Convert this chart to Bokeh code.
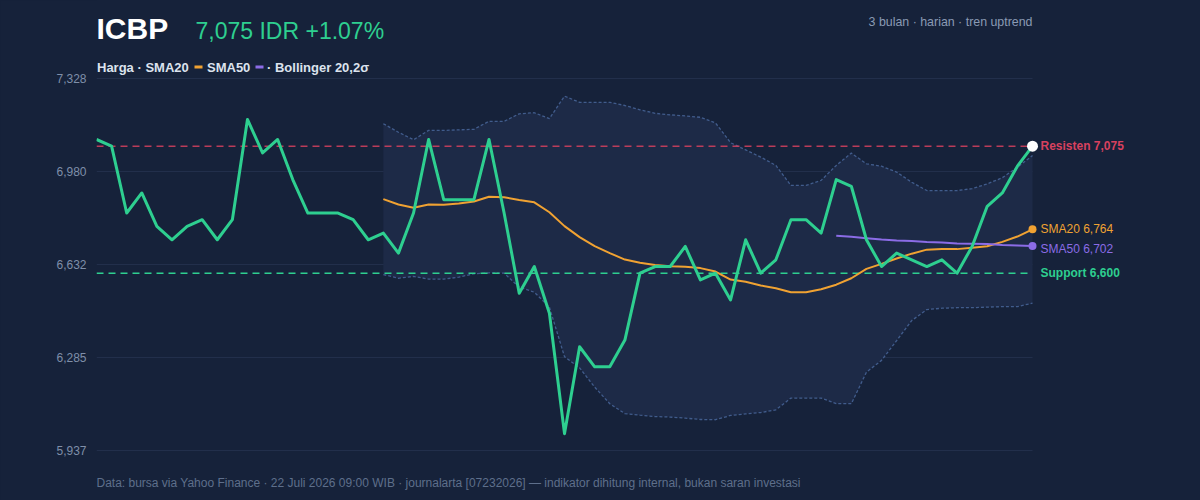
from bokeh.plotting import figure
from bokeh.models import Range1d, FixedTicker
from bokeh.embed import file_html
from bokeh.resources import INLINE
from bokeh.core.properties import value

# ---------------- data ----------------
ticker_name = "ICBP"
currency = "IDR"
change_pct = 1.07

close = [7100, 7075, 6825, 6900, 6775, 6725, 6775, 6800, 6725, 6800,
         7175, 7050, 7100, 6950, 6825, 6825, 6825, 6800, 6725, 6750,
         6675, 6825, 7100, 6875, 6875, 6875, 7100, 6825, 6525, 6625,
         6450, 6000, 6325, 6250, 6250, 6350, 6600, 6625, 6625, 6700,
         6575, 6600, 6500, 6725, 6600, 6650, 6800, 6800, 6750, 6950,
         6925, 6725, 6625, 6675, 6650, 6625, 6650, 6600, 6700, 6850,
         6900, 7000, 7075]

sma20_start = 19
sma20 = [6877, 6857, 6845, 6857, 6856, 6861, 6868, 6886, 6884, 6874,
         6865, 6828, 6776, 6735, 6701, 6675, 6651, 6639, 6631, 6626,
         6624, 6619, 6606, 6576, 6568, 6554, 6544, 6529, 6529, 6540,
         6557, 6581, 6616, 6635, 6655, 6673, 6688, 6690, 6690, 6695,
         6701, 6717, 6737, 6764]

bb_upper = [7159, 7127, 7099, 7134, 7134, 7136, 7138, 7168, 7168, 7196,
            7200, 7178, 7262, 7239, 7239, 7239, 7227, 7211, 7198, 7192,
            7188, 7183, 7162, 7088, 7061, 7034, 7003, 6928, 6928, 6947,
            7003, 7049, 7009, 7000, 6978, 6940, 6909, 6909, 6909, 6916,
            6934, 6957, 6996, 7040]

bb_lower = [6595, 6581, 6588, 6578, 6578, 6585, 6598, 6601, 6600, 6548,
            6529, 6473, 6288, 6246, 6174, 6112, 6075, 6069, 6064, 6062,
            6058, 6053, 6052, 6068, 6074, 6079, 6089, 6133, 6133, 6133,
            6112, 6112, 6230, 6274, 6348, 6423, 6464, 6469, 6471, 6471,
            6473, 6475, 6475, 6488]

sma50_start = 49
sma50 = [6740, 6736, 6731, 6726, 6722, 6720, 6717, 6715, 6711, 6710,
         6709, 6705, 6704, 6702]

resistance = 7075
support = 6600

y_ticks = [5937, 6284.75, 6632.5, 6980.25, 7328]
y_tick_labels = ["5,937", "6,285", "6,632", "6,980", "7,328"]

# ---------------- style / layout ----------------
BG = "#16223a"
BAND = "#1d2a47"
GRID = "#222f4b"
GREEN = "#2ecf90"
ORANGE = "#f0a232"
PURPLE = "#8b6ce6"
RED = "#d8415f"
BANDLINE = "#415c8c"
FONT = "Liberation Sans"

W, H = 1200, 500
PLOT_L, PLOT_R, PLOT_T, PLOT_B = 96, 1032, 78, 450  # data area in pixels
MIN_LABEL_GAP = 20  # px between stacked right-side labels

days = list(range(len(close)))
band_x = [sma20_start + i for i in range(len(sma20))]
sma50_x = [sma50_start + i for i in range(len(sma50))]

ux = (days[-1] - days[0]) / (PLOT_R - PLOT_L)
uy = (y_ticks[-1] - y_ticks[0]) / (PLOT_B - PLOT_T)
x0 = days[0]
x1 = days[-1] + (W - PLOT_R) * ux
y0 = y_ticks[0] - (H - PLOT_B) * uy
y1 = y_ticks[-1] + PLOT_T * uy


def X(px):
    return days[0] + (px - PLOT_L) * ux


def Y(py):
    return y_ticks[0] + (PLOT_B - py) * uy


p = figure(width=W, height=H, output_backend="svg", toolbar_location=None,
           x_range=Range1d(x0, x1), y_range=Range1d(y0, y1),
           min_border_left=PLOT_L, min_border_right=0, min_border_top=0, min_border_bottom=0,
           background_fill_color=None, border_fill_color=BG)
p.outline_line_color = None
p.styles = {"background-color": BG}

p.xaxis.visible = False
p.xgrid.visible = False
p.ygrid.visible = False
yax = p.yaxis[0]
yax.ticker = FixedTicker(ticks=y_ticks)
yax.major_label_overrides = {t: l for t, l in zip(y_ticks, y_tick_labels)}
yax.axis_line_color = None
yax.major_tick_line_color = None
yax.minor_tick_line_color = None
yax.major_tick_out = 0
yax.major_tick_in = 0
yax.major_label_standoff = 10
yax.major_label_text_color = "#7f8fa9"
yax.major_label_text_font = FONT
yax.major_label_text_font_size = "12px"

# gridlines across the data span
p.segment(x0=[days[0]] * len(y_ticks), x1=[days[-1]] * len(y_ticks), y0=y_ticks, y1=y_ticks,
          line_color=GRID, line_width=1)

# Bollinger band
p.varea(x=band_x, y1=bb_lower, y2=bb_upper, fill_color=BAND, fill_alpha=1.0)
p.line(band_x, bb_upper, line_color=BANDLINE, line_width=1.3, line_dash="3 2")
p.line(band_x, bb_lower, line_color=BANDLINE, line_width=1.3, line_dash="3 2")

# support / resistance
p.segment(x0=[days[0]], x1=[days[-1]], y0=[resistance], y1=[resistance],
          line_color=RED, line_width=1.5, line_dash="7 5", line_alpha=0.85)
p.segment(x0=[days[0]], x1=[days[-1]], y0=[support], y1=[support],
          line_color=GREEN, line_width=1.5, line_dash="7 5")

# moving averages
p.line(band_x, sma20, line_color=ORANGE, line_width=2)
p.line(sma50_x, sma50, line_color=PURPLE, line_width=2)

# price
p.line(days, close, line_color=GREEN, line_width=3, line_join="round")

# end markers
p.scatter([days[-1]], [close[-1]], size=11, fill_color="white", line_color=None)
p.scatter([band_x[-1]], [sma20[-1]], size=8, fill_color=ORANGE, line_color=None)
p.scatter([sma50_x[-1]], [sma50[-1]], size=8, fill_color=PURPLE, line_color=None)


# right-side labels
def rlabel(yv, text, color, bold, dy=0.0):
    p.text(x=[days[-1]], y=[yv], text=[text], x_offset=8, y_offset=dy, text_color=color,
           text_font=value(FONT), text_font_size="12px",
           text_font_style="bold" if bold else "normal",
           text_baseline="middle", text_align="left")


gap_px = (sma20[-1] - sma50[-1]) / uy
rlabel(resistance, f"Resisten {resistance:,}", RED, True)
rlabel(sma20[-1], f"SMA20 {sma20[-1]:,}", ORANGE, False)
rlabel(sma50[-1], f"SMA50 {sma50[-1]:,}", PURPLE, False, dy=max(0.0, MIN_LABEL_GAP - gap_px))
rlabel(support, f"Support {support:,}", GREEN, True)


# header / footer texts
def tlabel(px, py, text, color, size, bold=False, align="left", baseline="middle"):
    p.text(x=[X(px)], y=[Y(py)], text=[text], text_color=color, text_font=value(FONT),
           text_font_size=size, text_font_style="bold" if bold else "normal",
           text_align=align, text_baseline=baseline)


tlabel(96, 27.5, ticker_name, "#ffffff", "30px", bold=True)
tlabel(195, 30, f"{close[-1]:,} {currency} +{change_pct:.2f}%", GREEN, "23px")
tlabel(1032, 21, "3 bulan · harian · tren uptrend", "#8a9ab4", "12.4px", align="right")

LEG = "#dce3ee"
tlabel(96.5, 67, "Harga · SMA20", LEG, "13px", bold=True)
p.rect(x=[X(198)], y=[Y(66.5)], width=8, height=3, width_units="screen", height_units="screen",
       fill_color=ORANGE, line_color=None)
tlabel(206.5, 67, "SMA50", LEG, "13px", bold=True)
p.rect(x=[X(259)], y=[Y(66.5)], width=8, height=3, width_units="screen", height_units="screen",
       fill_color=PURPLE, line_color=None)
tlabel(266.5, 67, "· Bollinger 20,2σ", LEG, "13px", bold=True)

tlabel(96, 482, "Data: bursa via Yahoo Finance · 22 Juli 2026 09:00 WIB · journalarta [07232026] — indikator dihitung internal, bukan saran investasi",
       "#5e6f8b", "12px")

open("out.html", "w").write(file_html(p, INLINE))
